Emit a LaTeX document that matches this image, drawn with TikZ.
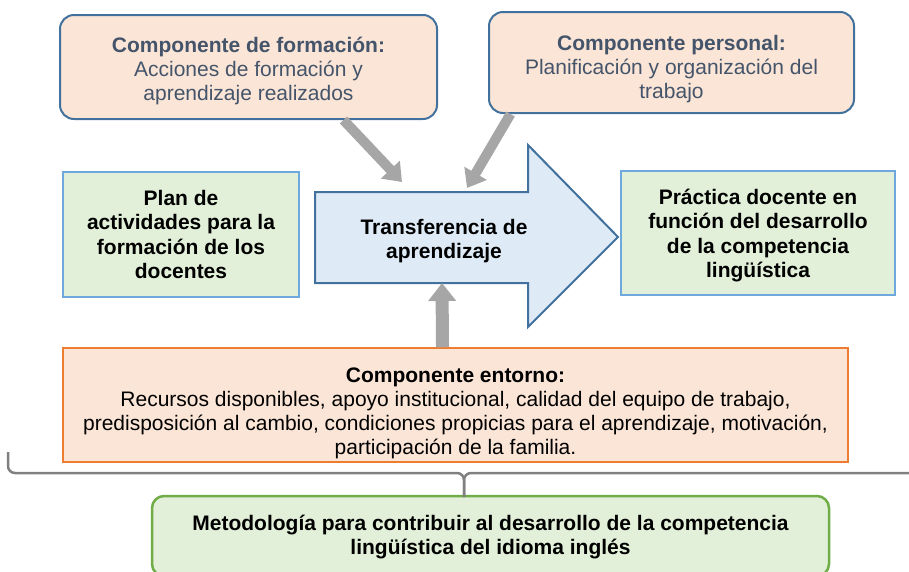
\documentclass[tikz,border=0pt]{standalone}
\usepackage{fontspec}
\setmainfont{Liberation Sans}
\usetikzlibrary{positioning,arrows.meta}

\definecolor{peach}{HTML}{FBE5D6}
\definecolor{palegreen}{HTML}{E2F0D9}
\definecolor{paleblue}{HTML}{DEEBF7}
\definecolor{steelline}{HTML}{41719C}
\definecolor{skyline}{HTML}{6FA8DC}
\definecolor{orangeline}{HTML}{ED7D31}
\definecolor{leafline}{HTML}{70AD47}
\definecolor{slatetext}{HTML}{44546A}
\definecolor{arrowgray}{HTML}{A6A6A6}
\definecolor{bracegray}{HTML}{808080}

% text block lowered inside its box, box size unchanged
\newcommand\lowertext[2]{\raisebox{-#1}[\height][\depth]{\begin{tabular}{@{}c@{}}#2\end{tabular}}}

\begin{document}
\begin{tikzpicture}[
        x=1pt, y=-1pt,
        every node/.style={align=center, inner sep=2pt, font=\fontsize{21}{24}\selectfont},
        component/.style={draw=steelline, line width=2pt, fill=peach, rounded corners=14pt, text=slatetext},
        stage/.style={draw=skyline, line width=2.5pt, fill=palegreen, font=\bfseries\fontsize{21}{24.5}\selectfont},
        context/.style={draw=orangeline, line width=1.5pt, fill=peach},
        result/.style={draw=leafline, line width=2.5pt, fill=palegreen, rounded corners=12pt, font=\bfseries\fontsize{21}{24}\selectfont},
        transfer/.style={draw=steelline, line width=2pt, fill=paleblue, line join=miter},
        feed/.style={draw=arrowgray, line width=10pt, -{Triangle[length=17pt, width=25pt]}},
        brace/.style={draw=bracegray, line width=2.5pt, rounded corners=7pt}
    ]
        \useasboundingbox (0,0) rectangle (909,571);

        % Big arrow
        \draw[transfer] (315,192) -- (528,192) -- (528,145) -- (618,237) -- (528,327)
            -- (528,283) -- (315,283) -- cycle;
        \node[font=\bfseries\fontsize{21}{24.5}\selectfont] (learning) at (444,241) {Transferencia de\\aprendizaje};
        \coordinate (inform) at (402,182);
        \coordinate (inperson) at (467,188);
        \coordinate (inenv) at (442,283);

        % Components
        \node[component, minimum width=377pt, minimum height=104pt] (formation) at (248.5,67)
            {\lowertext{5pt}{\textbf{Componente de formación:}\\Acciones de formación y\\aprendizaje realizados}};
        \node[component, minimum width=365pt, minimum height=101pt] (personal) at (671.5,62.5)
            {\lowertext{7pt}{\textbf{Componente personal:}\\Planificación y organización del\\trabajo}};

        % Side boxes
        \node[stage, minimum width=236pt, minimum height=125pt] (plan) at (181,234.5)
            {Plan de\\actividades para la\\formación de los\\docentes};
        \node[stage, minimum width=274pt, minimum height=124pt] (practice) at (758,233)
            {\lowertext{3pt}{Práctica docente en\\función del desarrollo\\de la competencia\\lingüística}};

        % Environment
        \node[context, minimum width=785pt, minimum height=114pt] (environment) at (455.5,405)
            {\lowertext{9pt}{\textbf{Componente entorno:}\\Recursos disponibles, apoyo institucional, calidad del equipo de trabajo,\\predisposición al cambio, condiciones propicias para el aprendizaje, motivación,\\participación de la familia.}};

        % Methodology
        \node[result, minimum width=677pt, minimum height=80pt] (method) at (490.5,536)
            {\lowertext{2pt}{Metodología para contribuir al desarrollo de la competencia\\lingüística del idioma inglés}};

        % Gray arrows
        \draw[feed] ([xshift=95pt]formation.south) -- (inform);
        \draw[feed] ([xshift=-161pt]personal.south) -- (inperson);
        \draw[feed, line width=13pt, -{Triangle[length=18pt, width=27pt]}] ([xshift=-13pt]environment.north) -- (inenv);

        % Brace
        \draw[brace] (8,452) |- (464,473) -- (464,497);
        \draw[brace] (922,452) |- (464,473) -- (464,497);
\end{tikzpicture}
\end{document}
